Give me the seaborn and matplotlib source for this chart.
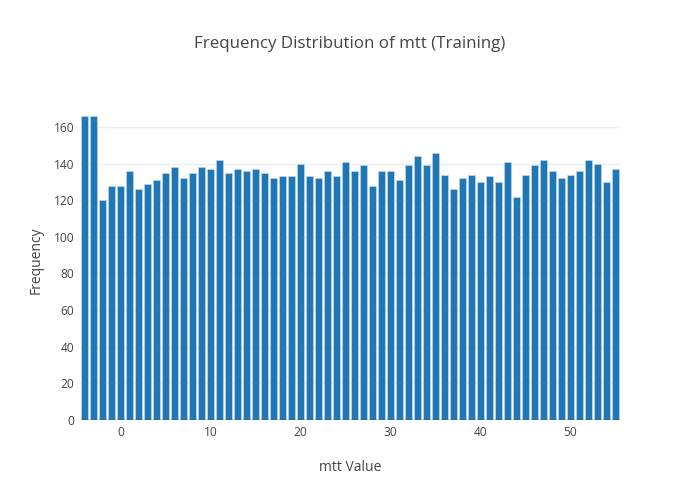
import matplotlib
matplotlib.use("Agg")
import matplotlib.pyplot as plt
import seaborn as sns
import pandas as pd

values = list(range(-4, 56))
freq = [166, 166, 120, 128, 128, 136, 126, 129, 131, 135,
        138, 132, 135, 138, 137, 142, 135, 137, 136, 137,
        135, 132, 133, 133, 140, 133, 132, 136, 133, 141,
        136, 139, 128, 136, 136, 131, 139, 144, 139, 146,
        134, 126, 132, 134, 130, 133, 130, 141, 122, 134,
        139, 142, 136, 132, 134, 136, 142, 140, 130, 137]
xticks = [0, 10, 20, 30, 40, 50]
yticks = [0, 20, 40, 60, 80, 100, 120, 140, 160]

sns.set_theme(style="white")
plt.rcParams['font.family'] = ['Open Sans', 'DejaVu Sans']

df = pd.DataFrame({"mtt": values, "count": freq})

fig = plt.figure(figsize=(7, 5), dpi=100)
ax = fig.add_axes([80/700, 80/500, 540/700, 320/500])
sns.barplot(data=df, x="mtt", y="count", native_scale=True, width=0.8,
            color="#1f77b4", saturation=1, edgecolor="#c9dcec", linewidth=0.4, ax=ax, zorder=2)

ax.set_xlim(-4.5, 55.5)
ax.set_ylim(0, 166 * 1.0526)
ax.set_xticks(xticks)
ax.set_yticks(yticks)
ax.tick_params(axis='both', labelsize=8.64, colors="#444444", length=0, pad=4)
ax.grid(axis='y', color="#eeeeee", linewidth=1, zorder=0)
ax.grid(axis='x', visible=False)
for s in ax.spines.values():
    s.set_visible(False)
ax.axhline(0, color="#444444", linewidth=1, zorder=3)
ax.set_xlabel("mtt Value", fontsize=10, color="#444444", labelpad=15.5)
ax.set_ylabel("Frequency", fontsize=10, color="#444444", labelpad=7)
fig.text(0.5, 1 - 44/500, "Frequency Distribution of mtt (Training)", ha="center", va="center",
         fontsize=12.2, color="#444444")

fig.savefig("out.png", dpi=100)
